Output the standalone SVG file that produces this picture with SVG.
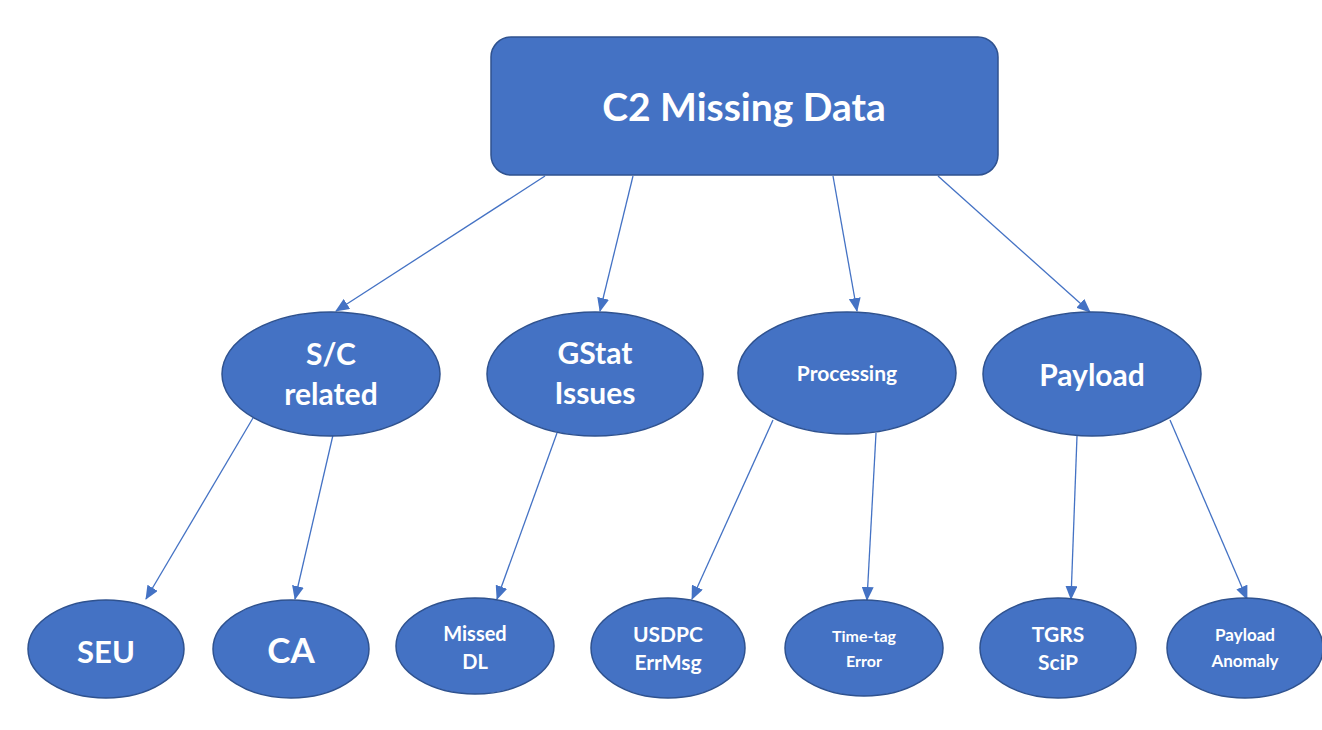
<svg xmlns="http://www.w3.org/2000/svg" width="1322" height="730" viewBox="0 0 1322 730">
<style>
.n{fill:#4472C4;stroke:#2F528F;stroke-width:1.5}
.t{fill:#fff;font-family:Lato,"Open Sans","Liberation Sans",sans-serif;text-anchor:middle;font-weight:bold}
.c{stroke:#4472C4;stroke-width:1.3;fill:none;marker-end:url(#a)}
</style>
<defs>
<marker id="a" markerWidth="14" markerHeight="12" refX="13" refY="6" orient="auto" markerUnits="userSpaceOnUse">
<path d="M0,0 L14,6 L0,12 Z" fill="#4472C4"/>
</marker>
</defs>
<rect width="1322" height="730" fill="#fff"/>
<g id="connectors">
<line class="c" x1="545" y1="176" x2="336" y2="311"/>
<line class="c" x1="633" y1="176" x2="600" y2="311"/>
<line class="c" x1="833" y1="176" x2="857" y2="311"/>
<line class="c" x1="938" y1="176" x2="1090" y2="312"/>
<line class="c" x1="253" y1="418" x2="146" y2="599"/>
<line class="c" x1="333" y1="435" x2="295" y2="599"/>
<line class="c" x1="557" y1="433" x2="497" y2="599"/>
<line class="c" x1="773" y1="420" x2="692" y2="599"/>
<line class="c" x1="876" y1="433" x2="867" y2="600"/>
<line class="c" x1="1077" y1="436" x2="1071" y2="599"/>
<line class="c" x1="1170" y1="420" x2="1247" y2="599"/>
</g>
<g id="root">
<rect class="n" x="491" y="37" width="507" height="138" rx="20"/>
<text class="t" x="744" y="121" font-size="39">C2 Missing Data</text>
</g>
<g id="sc">
<ellipse class="n" cx="331" cy="374" rx="109" ry="62"/>
<text class="t" x="331" y="365" font-size="30">S/C</text>
<text class="t" x="331" y="405" font-size="30">related</text>
</g>
<g id="gstat">
<ellipse class="n" cx="595" cy="374" rx="108" ry="62"/>
<text class="t" x="595" y="364" font-size="30">GStat</text>
<text class="t" x="595" y="404" font-size="30">Issues</text>
</g>
<g id="processing">
<ellipse class="n" cx="847" cy="373" rx="109" ry="61"/>
<text class="t" x="847" y="381" font-size="21">Processing</text>
</g>
<g id="payload">
<ellipse class="n" cx="1092" cy="374" rx="109" ry="62"/>
<text class="t" x="1092" y="386" font-size="30">Payload</text>
</g>
<g id="seu">
<ellipse class="n" cx="106" cy="649" rx="78" ry="49"/>
<text class="t" x="106" y="663" font-size="31">SEU</text>
</g>
<g id="ca">
<ellipse class="n" cx="291" cy="649" rx="78" ry="49"/>
<text class="t" x="291" y="663" font-size="35">CA</text>
</g>
<g id="misseddl">
<ellipse class="n" cx="475" cy="646" rx="79" ry="48"/>
<text class="t" x="475" y="641" font-size="20">Missed</text>
<text class="t" x="475" y="669" font-size="20">DL</text>
</g>
<g id="usdpc">
<ellipse class="n" cx="668" cy="648" rx="77" ry="50"/>
<text class="t" x="668" y="642" font-size="21">USDPC</text>
<text class="t" x="668" y="670" font-size="21">ErrMsg</text>
</g>
<g id="timetag">
<ellipse class="n" cx="864" cy="648" rx="79" ry="48"/>
<text class="t" x="864" y="642" font-size="16">Time-tag</text>
<text class="t" x="864" y="667" font-size="16">Error</text>
</g>
<g id="tgrs">
<ellipse class="n" cx="1058" cy="648" rx="78" ry="50"/>
<text class="t" x="1058" y="642" font-size="21">TGRS</text>
<text class="t" x="1058" y="670" font-size="21">SciP</text>
</g>
<g id="anomaly">
<ellipse class="n" cx="1245" cy="648" rx="78" ry="50"/>
<text class="t" x="1245" y="641" font-size="17">Payload</text>
<text class="t" x="1245" y="667" font-size="17">Anomaly</text>
</g>
</svg>
